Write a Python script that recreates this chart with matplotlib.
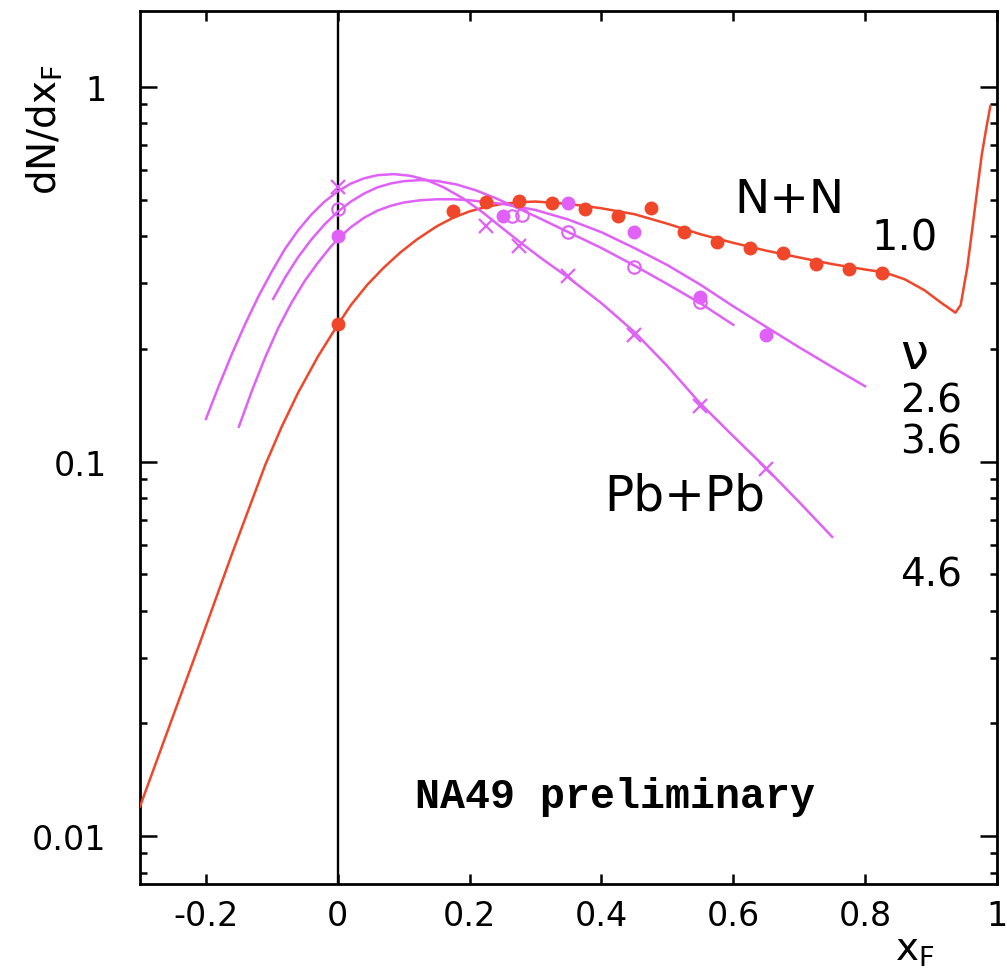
import numpy as np
import matplotlib
matplotlib.use('Agg')
import matplotlib.pyplot as plt
from matplotlib.ticker import LogLocator, NullFormatter, FixedLocator

plt.rcParams['font.family'] = ['DejaVu Sans']
plt.rcParams['axes.unicode_minus'] = False

red = '#f0462a'
magenta = '#e060f8'

# N+N data points and fit curve
nn_x = [0.0, 0.175, 0.225, 0.275, 0.325, 0.375, 0.425, 0.475, 0.525, 0.575, 0.625, 0.675, 0.725, 0.775, 0.825]
nn_y = [0.233, 0.466, 0.493, 0.496, 0.49, 0.472, 0.452, 0.475, 0.41, 0.386, 0.372, 0.36, 0.337, 0.327, 0.32]

nn_fit_x = [-0.30, -0.26, -0.21, -0.16, -0.11, -0.085, -0.06, -0.03, 0.0, 0.02, 0.045, 0.07, 0.095, 0.12,
            0.15, 0.175, 0.2, 0.225, 0.25, 0.275, 0.30, 0.35, 0.40, 0.45, 0.50, 0.55, 0.60, 0.65, 0.70,
            0.75, 0.80, 0.83, 0.86, 0.89, 0.915, 0.93, 0.937, 0.945, 0.955, 0.962, 0.97, 0.977, 0.984, 0.99]
nn_fit_y = [0.0120, 0.0187, 0.0325, 0.057, 0.098, 0.124, 0.153, 0.191, 0.232, 0.262, 0.297, 0.33, 0.362, 0.392,
            0.425, 0.448, 0.466, 0.479, 0.488, 0.493, 0.495, 0.488, 0.475, 0.458, 0.432, 0.405, 0.384, 0.366,
            0.351, 0.337, 0.326, 0.32, 0.307, 0.287, 0.266, 0.255, 0.25, 0.262, 0.33, 0.41, 0.53, 0.66, 0.78,
            0.89]

# Pb+Pb, nu = 2.6 (filled circles)
pb26_x = [0.0, 0.25, 0.35, 0.45, 0.55, 0.65]
pb26_y = [0.40, 0.453, 0.49, 0.41, 0.275, 0.218]
pb26_fit_x = [-0.15, -0.13, -0.11, -0.09, -0.07, -0.05, -0.03, -0.01, 0.0, 0.02, 0.04, 0.06, 0.08, 0.1,
              0.125, 0.15, 0.175, 0.2, 0.25, 0.3, 0.35, 0.4, 0.45, 0.5, 0.55, 0.6, 0.65, 0.7, 0.75, 0.8]
pb26_fit_y = [0.124, 0.155, 0.19, 0.228, 0.266, 0.304, 0.34, 0.376, 0.393, 0.423, 0.448, 0.468, 0.482, 0.492,
              0.499, 0.502, 0.502, 0.499, 0.488, 0.47, 0.443, 0.41, 0.372, 0.335, 0.297, 0.26, 0.229, 0.202,
              0.179, 0.159]

# Pb+Pb, nu = 3.6 (open circles)
pb36_x = [0.0, 0.265, 0.28, 0.35, 0.45, 0.55]
pb36_y = [0.472, 0.453, 0.455, 0.41, 0.331, 0.267]
pb36_fit_x = [-0.098, -0.08, -0.06, -0.04, -0.02, 0.0, 0.02, 0.04, 0.06, 0.08, 0.1, 0.126, 0.15, 0.18,
              0.21, 0.24, 0.27, 0.3, 0.35, 0.4, 0.45, 0.5, 0.55, 0.6]
pb36_fit_y = [0.272, 0.31, 0.352, 0.392, 0.43, 0.465, 0.495, 0.52, 0.54, 0.553, 0.561, 0.565, 0.562, 0.55,
              0.53, 0.505, 0.478, 0.452, 0.41, 0.372, 0.334, 0.298, 0.265, 0.232]

# Pb+Pb, nu = 4.6 (crosses)
pb46_x = [0.0, 0.225, 0.275, 0.35, 0.45, 0.55, 0.65]
pb46_y = [0.54, 0.425, 0.376, 0.313, 0.218, 0.141, 0.0955]
pb46_fit_x = [-0.2, -0.18, -0.16, -0.14, -0.12, -0.1, -0.08, -0.06, -0.04, -0.02, 0.0, 0.02, 0.04, 0.06,
              0.085, 0.11, 0.135, 0.16, 0.19, 0.22, 0.25, 0.277, 0.31, 0.35, 0.40, 0.45, 0.50, 0.55, 0.60,
              0.65, 0.70, 0.75]
pb46_fit_y = [0.130, 0.160, 0.195, 0.234, 0.277, 0.322, 0.37, 0.415, 0.457, 0.495, 0.527, 0.553, 0.571, 0.582,
              0.586, 0.58, 0.565, 0.541, 0.505, 0.463, 0.42, 0.385, 0.348, 0.31, 0.265, 0.222, 0.18, 0.143,
              0.117, 0.096, 0.078, 0.063]

x_ticks = [-0.2, 0, 0.2, 0.4, 0.6, 0.8, 1]
x_tick_labels = ['-0.2', '0', '0.2', '0.4', '0.6', '0.8', '1']
y_ticks = [0.01, 0.1, 1]
y_tick_labels = ['0.01', '0.1', '1']

fig = plt.figure(figsize=(10.07, 9.78), dpi=100)
ax = fig.add_axes([0.139, 0.095, 0.851, 0.893])

ax.set_yscale('log')
ax.set_xlim(-0.3, 1.0)
ax.set_ylim(0.00745, 1.6)

# vertical line at x_F = 0
ax.axvline(0, color='black', lw=1.7, zorder=1)

ax.plot(nn_fit_x, nn_fit_y, color=red, lw=1.8, zorder=3)
ax.plot(nn_x, nn_y, 'o', color=red, ms=9, zorder=4)

ax.plot(pb26_fit_x, pb26_fit_y, color=magenta, lw=1.8, zorder=3)
ax.plot(pb26_x, pb26_y, 'o', color=magenta, ms=9, zorder=4)

ax.plot(pb36_fit_x, pb36_fit_y, color=magenta, lw=1.8, zorder=3)
ax.plot(pb36_x, pb36_y, 'o', color=magenta, ms=9, mfc='none', mew=1.5, zorder=4)

ax.plot(pb46_fit_x, pb46_fit_y, color=magenta, lw=1.8, zorder=3)
ax.plot(pb46_x, pb46_y, 'x', color=magenta, ms=10, mew=1.6, zorder=4)

# ticks
ax.xaxis.set_major_locator(FixedLocator(x_ticks))
ax.set_xticklabels(x_tick_labels)
ax.yaxis.set_major_locator(FixedLocator(y_ticks))
ax.set_yticklabels(y_tick_labels)
ax.yaxis.set_minor_locator(LogLocator(base=10, subs=np.arange(2, 10), numticks=20))
ax.yaxis.set_minor_formatter(NullFormatter())

ax.tick_params(which='both', direction='in', top=True, right=True, width=1.8)
ax.tick_params(axis='x', which='major', length=7.5, labelsize=24, pad=11)
ax.tick_params(axis='y', which='major', length=12, labelsize=24, pad=24)
ax.tick_params(axis='y', which='minor', length=5)

for s in ax.spines.values():
    s.set_linewidth(2.0)

# axis titles
ax.set_ylabel(r'$\mathregular{dN/dx_F}$', fontsize=28, labelpad=0)
ax.yaxis.set_label_coords(-0.088, 0.865)
ax.set_xlabel(r'$\mathregular{x_F}$', fontsize=28)
ax.xaxis.set_label_coords(0.904, -0.052)

# annotations
ax.text(0.685, 0.502, 'N+N', fontsize=34, ha='center', va='center')
ax.text(0.86, 0.398, '1.0', fontsize=30, ha='center', va='center')
ax.text(0.875, 0.194, 'ν', fontsize=36, ha='center', va='center')
ax.text(0.90, 0.146, '2.6', fontsize=28, ha='center', va='center')
ax.text(0.90, 0.113, '3.6', fontsize=28, ha='center', va='center')
ax.text(0.90, 0.050, '4.6', fontsize=28, ha='center', va='center')
ax.text(0.526, 0.081, 'Pb+Pb', fontsize=35, ha='center', va='center')
ax.text(0.42, 0.0128, 'NA49 preliminary', fontsize=30, family='Liberation Mono', weight='bold',
        ha='center', va='center')

fig.savefig('out.png', dpi=100)
